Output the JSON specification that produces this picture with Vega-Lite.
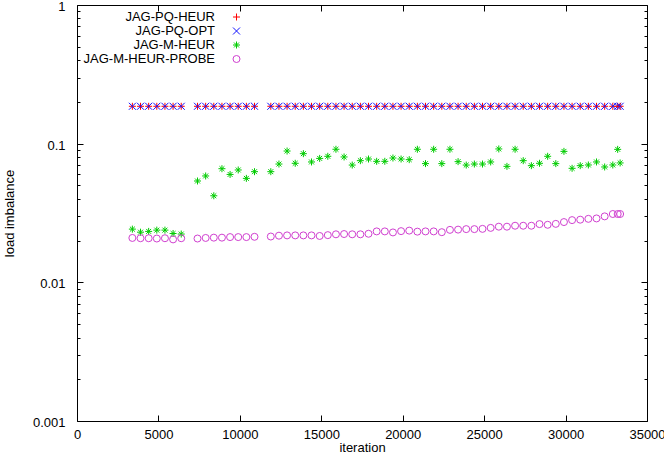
{
  "$schema": "https://vega.github.io/schema/vega-lite/v6.json",
  "width": 570,
  "height": 416,
  "autosize": {"type": "none"},
  "padding": {"left": 77, "top": 5, "right": 17, "bottom": 39},
  "background": "white",
  "data": {"values": [
    {"iteration":3400,"JAG-PQ-HEUR":0.186,"JAG-PQ-OPT":0.186,"JAG-M-HEUR":0.0242,"JAG-M-HEUR-PROBE":0.0209},
    {"iteration":3900,"JAG-PQ-HEUR":0.186,"JAG-PQ-OPT":0.186,"JAG-M-HEUR":0.0230,"JAG-M-HEUR-PROBE":0.0208},
    {"iteration":4400,"JAG-PQ-HEUR":0.186,"JAG-PQ-OPT":0.186,"JAG-M-HEUR":0.0233,"JAG-M-HEUR-PROBE":0.0208},
    {"iteration":4900,"JAG-PQ-HEUR":0.186,"JAG-PQ-OPT":0.186,"JAG-M-HEUR":0.0238,"JAG-M-HEUR-PROBE":0.0207},
    {"iteration":5400,"JAG-PQ-HEUR":0.186,"JAG-PQ-OPT":0.186,"JAG-M-HEUR":0.0238,"JAG-M-HEUR-PROBE":0.0208},
    {"iteration":5900,"JAG-PQ-HEUR":0.186,"JAG-PQ-OPT":0.186,"JAG-M-HEUR":0.0225,"JAG-M-HEUR-PROBE":0.0204},
    {"iteration":6400,"JAG-PQ-HEUR":0.186,"JAG-PQ-OPT":0.186,"JAG-M-HEUR":0.0223,"JAG-M-HEUR-PROBE":0.0208},
    {"iteration":7400,"JAG-PQ-HEUR":0.186,"JAG-PQ-OPT":0.186,"JAG-M-HEUR":0.0538,"JAG-M-HEUR-PROBE":0.0207},
    {"iteration":7900,"JAG-PQ-HEUR":0.186,"JAG-PQ-OPT":0.186,"JAG-M-HEUR":0.0585,"JAG-M-HEUR-PROBE":0.0209},
    {"iteration":8400,"JAG-PQ-HEUR":0.186,"JAG-PQ-OPT":0.186,"JAG-M-HEUR":0.0421,"JAG-M-HEUR-PROBE":0.0210},
    {"iteration":8900,"JAG-PQ-HEUR":0.186,"JAG-PQ-OPT":0.186,"JAG-M-HEUR":0.0660,"JAG-M-HEUR-PROBE":0.0210},
    {"iteration":9400,"JAG-PQ-HEUR":0.186,"JAG-PQ-OPT":0.186,"JAG-M-HEUR":0.0600,"JAG-M-HEUR-PROBE":0.0212},
    {"iteration":9900,"JAG-PQ-HEUR":0.186,"JAG-PQ-OPT":0.186,"JAG-M-HEUR":0.0646,"JAG-M-HEUR-PROBE":0.0212},
    {"iteration":10400,"JAG-PQ-HEUR":0.186,"JAG-PQ-OPT":0.186,"JAG-M-HEUR":0.0562,"JAG-M-HEUR-PROBE":0.0212},
    {"iteration":10900,"JAG-PQ-HEUR":0.186,"JAG-PQ-OPT":0.186,"JAG-M-HEUR":0.0628,"JAG-M-HEUR-PROBE":0.0213},
    {"iteration":11900,"JAG-PQ-HEUR":0.186,"JAG-PQ-OPT":0.186,"JAG-M-HEUR":0.0628,"JAG-M-HEUR-PROBE":0.0214},
    {"iteration":12400,"JAG-PQ-HEUR":0.186,"JAG-PQ-OPT":0.186,"JAG-M-HEUR":0.0713,"JAG-M-HEUR-PROBE":0.0217},
    {"iteration":12900,"JAG-PQ-HEUR":0.186,"JAG-PQ-OPT":0.186,"JAG-M-HEUR":0.0885,"JAG-M-HEUR-PROBE":0.0218},
    {"iteration":13400,"JAG-PQ-HEUR":0.186,"JAG-PQ-OPT":0.186,"JAG-M-HEUR":0.0722,"JAG-M-HEUR-PROBE":0.0218},
    {"iteration":13900,"JAG-PQ-HEUR":0.186,"JAG-PQ-OPT":0.186,"JAG-M-HEUR":0.0847,"JAG-M-HEUR-PROBE":0.0218},
    {"iteration":14400,"JAG-PQ-HEUR":0.186,"JAG-PQ-OPT":0.186,"JAG-M-HEUR":0.0738,"JAG-M-HEUR-PROBE":0.0218},
    {"iteration":14900,"JAG-PQ-HEUR":0.186,"JAG-PQ-OPT":0.186,"JAG-M-HEUR":0.0783,"JAG-M-HEUR-PROBE":0.0216},
    {"iteration":15400,"JAG-PQ-HEUR":0.186,"JAG-PQ-OPT":0.186,"JAG-M-HEUR":0.0811,"JAG-M-HEUR-PROBE":0.0219},
    {"iteration":15900,"JAG-PQ-HEUR":0.186,"JAG-PQ-OPT":0.186,"JAG-M-HEUR":0.0911,"JAG-M-HEUR-PROBE":0.0222},
    {"iteration":16400,"JAG-PQ-HEUR":0.186,"JAG-PQ-OPT":0.186,"JAG-M-HEUR":0.0802,"JAG-M-HEUR-PROBE":0.0223},
    {"iteration":16900,"JAG-PQ-HEUR":0.186,"JAG-PQ-OPT":0.186,"JAG-M-HEUR":0.0701,"JAG-M-HEUR-PROBE":0.0222},
    {"iteration":17400,"JAG-PQ-HEUR":0.186,"JAG-PQ-OPT":0.186,"JAG-M-HEUR":0.0754,"JAG-M-HEUR-PROBE":0.0222},
    {"iteration":17900,"JAG-PQ-HEUR":0.186,"JAG-PQ-OPT":0.186,"JAG-M-HEUR":0.0775,"JAG-M-HEUR-PROBE":0.0224},
    {"iteration":18400,"JAG-PQ-HEUR":0.186,"JAG-PQ-OPT":0.186,"JAG-M-HEUR":0.0746,"JAG-M-HEUR-PROBE":0.0233},
    {"iteration":18900,"JAG-PQ-HEUR":0.186,"JAG-PQ-OPT":0.186,"JAG-M-HEUR":0.0746,"JAG-M-HEUR-PROBE":0.0233},
    {"iteration":19400,"JAG-PQ-HEUR":0.186,"JAG-PQ-OPT":0.186,"JAG-M-HEUR":0.0788,"JAG-M-HEUR-PROBE":0.0229},
    {"iteration":19900,"JAG-PQ-HEUR":0.186,"JAG-PQ-OPT":0.186,"JAG-M-HEUR":0.0775,"JAG-M-HEUR-PROBE":0.0234},
    {"iteration":20400,"JAG-PQ-HEUR":0.186,"JAG-PQ-OPT":0.186,"JAG-M-HEUR":0.0767,"JAG-M-HEUR-PROBE":0.0236},
    {"iteration":20900,"JAG-PQ-HEUR":0.186,"JAG-PQ-OPT":0.186,"JAG-M-HEUR":0.0911,"JAG-M-HEUR-PROBE":0.0232},
    {"iteration":21400,"JAG-PQ-HEUR":0.186,"JAG-PQ-OPT":0.186,"JAG-M-HEUR":0.0718,"JAG-M-HEUR-PROBE":0.0233},
    {"iteration":21900,"JAG-PQ-HEUR":0.186,"JAG-PQ-OPT":0.186,"JAG-M-HEUR":0.0911,"JAG-M-HEUR-PROBE":0.0233},
    {"iteration":22400,"JAG-PQ-HEUR":0.186,"JAG-PQ-OPT":0.186,"JAG-M-HEUR":0.0718,"JAG-M-HEUR-PROBE":0.0230},
    {"iteration":22900,"JAG-PQ-HEUR":0.186,"JAG-PQ-OPT":0.186,"JAG-M-HEUR":0.0911,"JAG-M-HEUR-PROBE":0.0239},
    {"iteration":23400,"JAG-PQ-HEUR":0.186,"JAG-PQ-OPT":0.186,"JAG-M-HEUR":0.0742,"JAG-M-HEUR-PROBE":0.0240},
    {"iteration":23900,"JAG-PQ-HEUR":0.186,"JAG-PQ-OPT":0.186,"JAG-M-HEUR":0.0701,"JAG-M-HEUR-PROBE":0.0242},
    {"iteration":24400,"JAG-PQ-HEUR":0.186,"JAG-PQ-OPT":0.186,"JAG-M-HEUR":0.0713,"JAG-M-HEUR-PROBE":0.0242},
    {"iteration":24900,"JAG-PQ-HEUR":0.186,"JAG-PQ-OPT":0.186,"JAG-M-HEUR":0.0713,"JAG-M-HEUR-PROBE":0.0243},
    {"iteration":25400,"JAG-PQ-HEUR":0.186,"JAG-PQ-OPT":0.186,"JAG-M-HEUR":0.0738,"JAG-M-HEUR-PROBE":0.0247},
    {"iteration":25900,"JAG-PQ-HEUR":0.186,"JAG-PQ-OPT":0.186,"JAG-M-HEUR":0.0916,"JAG-M-HEUR-PROBE":0.0252},
    {"iteration":26400,"JAG-PQ-HEUR":0.186,"JAG-PQ-OPT":0.186,"JAG-M-HEUR":0.0686,"JAG-M-HEUR-PROBE":0.0252},
    {"iteration":26900,"JAG-PQ-HEUR":0.186,"JAG-PQ-OPT":0.186,"JAG-M-HEUR":0.0911,"JAG-M-HEUR-PROBE":0.0256},
    {"iteration":27400,"JAG-PQ-HEUR":0.186,"JAG-PQ-OPT":0.186,"JAG-M-HEUR":0.0754,"JAG-M-HEUR-PROBE":0.0256},
    {"iteration":27900,"JAG-PQ-HEUR":0.186,"JAG-PQ-OPT":0.186,"JAG-M-HEUR":0.0694,"JAG-M-HEUR-PROBE":0.0256},
    {"iteration":28400,"JAG-PQ-HEUR":0.186,"JAG-PQ-OPT":0.186,"JAG-M-HEUR":0.0722,"JAG-M-HEUR-PROBE":0.0263},
    {"iteration":28900,"JAG-PQ-HEUR":0.186,"JAG-PQ-OPT":0.186,"JAG-M-HEUR":0.0811,"JAG-M-HEUR-PROBE":0.0260},
    {"iteration":29400,"JAG-PQ-HEUR":0.186,"JAG-PQ-OPT":0.186,"JAG-M-HEUR":0.0718,"JAG-M-HEUR-PROBE":0.0264},
    {"iteration":29900,"JAG-PQ-HEUR":0.186,"JAG-PQ-OPT":0.186,"JAG-M-HEUR":0.0880,"JAG-M-HEUR-PROBE":0.0272},
    {"iteration":30400,"JAG-PQ-HEUR":0.186,"JAG-PQ-OPT":0.186,"JAG-M-HEUR":0.0664,"JAG-M-HEUR-PROBE":0.0281},
    {"iteration":30900,"JAG-PQ-HEUR":0.186,"JAG-PQ-OPT":0.186,"JAG-M-HEUR":0.0694,"JAG-M-HEUR-PROBE":0.0283},
    {"iteration":31400,"JAG-PQ-HEUR":0.186,"JAG-PQ-OPT":0.186,"JAG-M-HEUR":0.0702,"JAG-M-HEUR-PROBE":0.0287},
    {"iteration":31900,"JAG-PQ-HEUR":0.186,"JAG-PQ-OPT":0.186,"JAG-M-HEUR":0.0738,"JAG-M-HEUR-PROBE":0.0289},
    {"iteration":32400,"JAG-PQ-HEUR":0.186,"JAG-PQ-OPT":0.186,"JAG-M-HEUR":0.0679,"JAG-M-HEUR-PROBE":0.0299},
    {"iteration":32900,"JAG-PQ-HEUR":0.186,"JAG-PQ-OPT":0.186,"JAG-M-HEUR":0.0702,"JAG-M-HEUR-PROBE":0.0311},
    {"iteration":33200,"JAG-PQ-HEUR":0.186,"JAG-PQ-OPT":0.186,"JAG-M-HEUR":0.0910,"JAG-M-HEUR-PROBE":0.0311},
    {"iteration":33350,"JAG-PQ-HEUR":0.186,"JAG-PQ-OPT":0.186,"JAG-M-HEUR":0.0726,"JAG-M-HEUR-PROBE":0.0311}
  ]},
  "transform": [
    {"fold": ["JAG-PQ-HEUR", "JAG-PQ-OPT", "JAG-M-HEUR", "JAG-M-HEUR-PROBE"], "as": ["series", "value"]}
  ],
  "layer": [
    {
      "mark": {"type": "point", "filled": false, "strokeWidth": 1, "size": 49, "opacity": 1},
      "encoding": {
        "x": {"field": "iteration", "type": "quantitative",
              "scale": {"domain": [0, 35000], "nice": false, "zero": false},
              "axis": {"orient": "bottom", "values": [0, 5000, 10000, 15000, 20000, 25000, 30000, 35000],
                       "format": "d", "tickSize": -6, "labelPadding": 13, "labelFlush": false,
                       "title": "iteration", "titlePadding": 0}},
        "y": {"field": "value", "type": "quantitative",
              "scale": {"type": "log", "domain": [0.001, 1], "nice": false},
              "axis": {"orient": "left", "values": [0.001, 0.01, 0.1, 1], "format": "~g",
                       "tickSize": -6, "labelPadding": 18, "labelOffset": 1.5,
                       "title": "load imbalance", "titlePadding": 16}},
        "color": {"field": "series", "type": "nominal",
                  "scale": {"domain": ["JAG-PQ-HEUR", "JAG-PQ-OPT", "JAG-M-HEUR", "JAG-M-HEUR-PROBE"],
                            "range": ["#ff0000", "#1010ff", "#00cc00", "#d040d0"]},
                  "legend": {"title": null}},
        "shape": {"field": "series", "type": "nominal",
                  "scale": {"domain": ["JAG-PQ-HEUR", "JAG-PQ-OPT", "JAG-M-HEUR", "JAG-M-HEUR-PROBE"],
                            "range": ["M-1,0L1,0M0,-1L0,1", "M-1,-1L1,1M-1,1L1,-1",
                                      "M-1,0L1,0M0,-1L0,1M-0.7,-0.7L0.7,0.7M-0.7,0.7L0.7,-0.7", "circle"]},
                  "legend": {"title": null}}
      }
    },
    {
      "mark": {"type": "point", "opacity": 0},
      "encoding": {
        "x": {"field": "iteration", "type": "quantitative",
              "axis": {"orient": "top", "values": [0, 5000, 10000, 15000, 20000, 25000, 30000, 35000],
                       "tickSize": -6, "labels": false, "title": null}},
        "y": {"field": "value", "type": "quantitative",
              "axis": {"orient": "right", "values": [0.001, 0.01, 0.1, 1], "tickSize": -6, "labels": false, "title": null}}
      }
    },
    {
      "mark": {"type": "point", "opacity": 0},
      "encoding": {
        "x": {"field": "iteration", "type": "quantitative", "axis": null},
        "y": {"field": "value", "type": "quantitative",
              "axis": {"orient": "left", "domain": false, "labels": false, "title": null, "tickSize": -3,
                       "values": [0.002, 0.003, 0.004, 0.005, 0.006, 0.007, 0.008, 0.009,
                                  0.02, 0.03, 0.04, 0.05, 0.06, 0.07, 0.08, 0.09,
                                  0.2, 0.3, 0.4, 0.5, 0.6, 0.7, 0.8, 0.9]}}
      }
    },
    {
      "mark": {"type": "point", "opacity": 0},
      "encoding": {
        "x": {"field": "iteration", "type": "quantitative", "axis": null},
        "y": {"field": "value", "type": "quantitative",
              "axis": {"orient": "right", "domain": false, "labels": false, "title": null, "tickSize": -3,
                       "values": [0.002, 0.003, 0.004, 0.005, 0.006, 0.007, 0.008, 0.009,
                                  0.02, 0.03, 0.04, 0.05, 0.06, 0.07, 0.08, 0.09,
                                  0.2, 0.3, 0.4, 0.5, 0.6, 0.7, 0.8, 0.9]}}
      }
    }
  ],
  "resolve": {"axis": {"x": "independent", "y": "independent"}},
  "config": {
    "view": {"stroke": null},
    "font": "Liberation Sans",
    "axis": {
      "grid": false, "domainColor": "black", "domainWidth": 1, "tickColor": "black", "tickWidth": 1,
      "labelFont": "Liberation Sans", "labelFontSize": 13, "labelColor": "black",
      "titleFont": "Liberation Sans", "titleFontSize": 13, "titleFontWeight": "normal", "titleColor": "black"
    },
    "legend": {
      "orient": "none", "legendX": 153, "legendY": 5.5, "padding": 0, "offset": 0,
      "labelAlign": "right", "labelOffset": -28, "symbolOffset": 0,
      "labelFont": "Liberation Sans", "labelFontSize": 13, "labelColor": "black",
      "symbolSize": 49, "symbolStrokeWidth": 1, "rowPadding": -1, "labelLimit": 300
    }
  }
}
